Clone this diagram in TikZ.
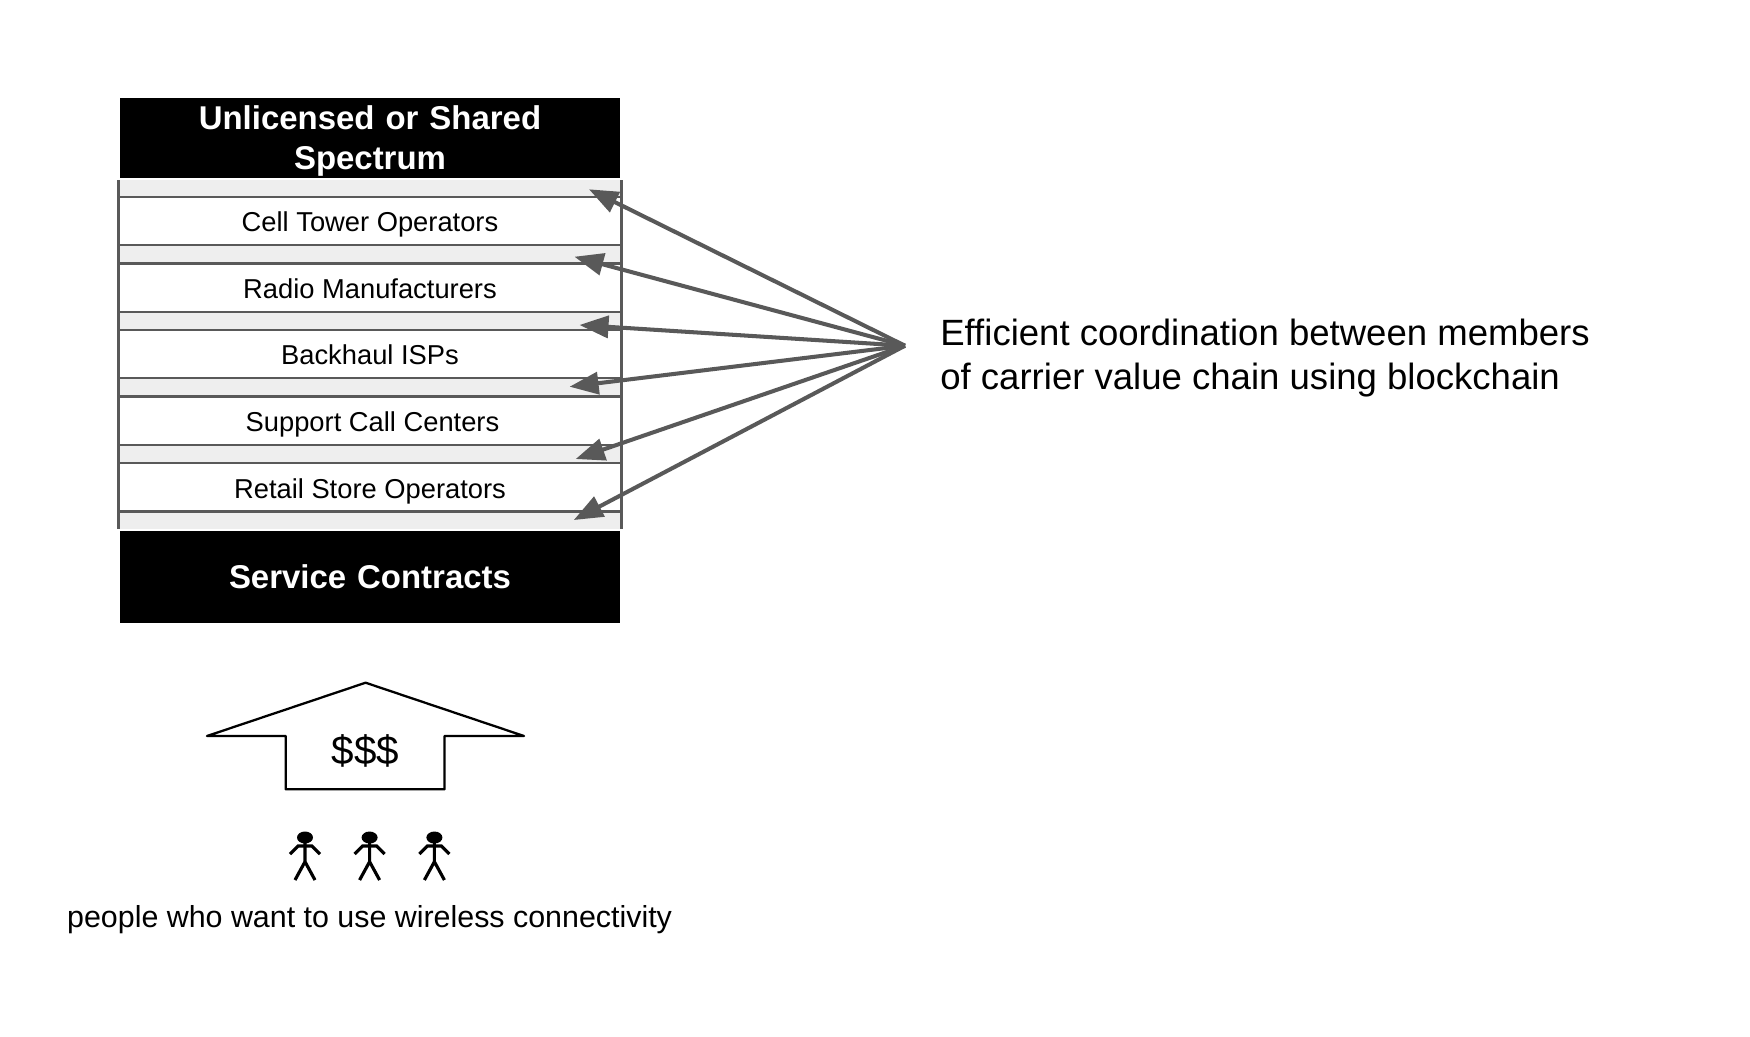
\documentclass[tikz,border=0pt]{standalone}
\usepackage{fontspec}
\setmainfont{Liberation Sans}
\usetikzlibrary{positioning,arrows.meta}
\definecolor{linegray}{HTML}{595959}
\definecolor{stripgray}{HTML}{EEEEEE}
\tikzset{
    >={Triangle[length=0.58cm,width=0.44cm]},
    banner/.style={
        rectangle,
        fill=black,
        text=white,
        minimum width=10.02cm,
        text width=10cm,
        text centered,
        inner sep=0pt,
        font={\fontsize{18.75pt}{23.2pt}\selectfont\bfseries}
    },
    member/.style={
        rectangle,
        draw=linegray, line width=1.3pt,
        fill=white,
        outer sep=0pt,
        minimum width=10.06cm,
        minimum height=0.966cm,
        inner sep=0pt,
        text height=12.3pt,
        text depth=0pt,
        font={\fontsize{15.55pt}{19pt}\selectfont}
    },
    link/.style={draw=linegray, line width=2.3pt, ->},
    label/.style={
        align=left,
        inner sep=0pt,
        font={\fontsize{20.8pt}{24.8pt}\selectfont}
    },
    person/.style={line width=1.8pt},
}
\begin{document}
\begin{tikzpicture}[x=0.02cm,y=-0.02cm]
\useasboundingbox (0,0) rectangle (1750,1036);
% strip behind the members
\fill[stripgray] (118.5,180) rectangle (621.5,528.5);
\draw[linegray,line width=1.3pt] (118.5,180) -- (118.5,528.5) (621.5,180) -- (621.5,528.5);
% value chain
\node[banner,minimum height=1.588cm] (spectrum) at (370,138) {\rule{0pt}{0.6cm}Unlicensed or Shared\\Spectrum};
\node[member] (tower) at (370,221) {Cell Tower Operators};
\node[member,below=0.366cm of tower] (radio) {Radio Manufacturers};
\node[member,below=0.366cm of radio] (backhaul) {Backhaul ISPs};
\node[member,below=0.366cm of backhaul] (support) {\hspace{0.1cm}Support Call Centers};
\node[member,below=0.366cm of support] (retail) {Retail Store Operators};
\node[banner,minimum height=1.84cm] (contracts) at (370,576.7) {Service Contracts};
% coordination
\node[label,anchor=west] (coord) at (940,358) {Efficient coordination between members\\of carrier value chain using blockchain};
\coordinate (hub) at (905,345.7);
\coordinate (t1) at (589,189.3);
\coordinate (t2) at (574.5,256.7);
\coordinate (t3) at (579.5,325);
\coordinate (t4) at (569.6,386.7);
\coordinate (t5) at (575.7,459);
\coordinate (t6) at (573.8,520);
\foreach \t in {t1,t2,t3,t4,t5,t6}
    \draw[link] (hub) -- (\t);
% payment arrow
\draw[black,line width=1.3pt,line join=round] (365.6,682.7) -- (524,736) -- (444.6,736) -- (444.6,789.3)
    -- (285.7,789.3) -- (285.7,736) -- (207,736) -- cycle;
\node[inner sep=0pt,font={\fontsize{23pt}{27pt}\selectfont}] (money) at (365.6,751) {\$\$\$};
% people
\foreach \x in {305,369.6,434.4}{
    \fill (\x,837.5) ellipse [x radius=8,y radius=6];
    \draw[person] (\x,840) -- (\x,861.7) -- ++(-10,18.3) (\x,861.7) -- ++(10,18.3);
    \draw[person] (\x-15,854) -- (\x-7,846) -- (\x+7,846) -- (\x+15,854);
}
\node[inner sep=0pt,font={\fontsize{17.3pt}{19pt}\selectfont}] (people) at (369.6,920) {people who want to use wireless connectivity};
\end{tikzpicture}
\end{document}
